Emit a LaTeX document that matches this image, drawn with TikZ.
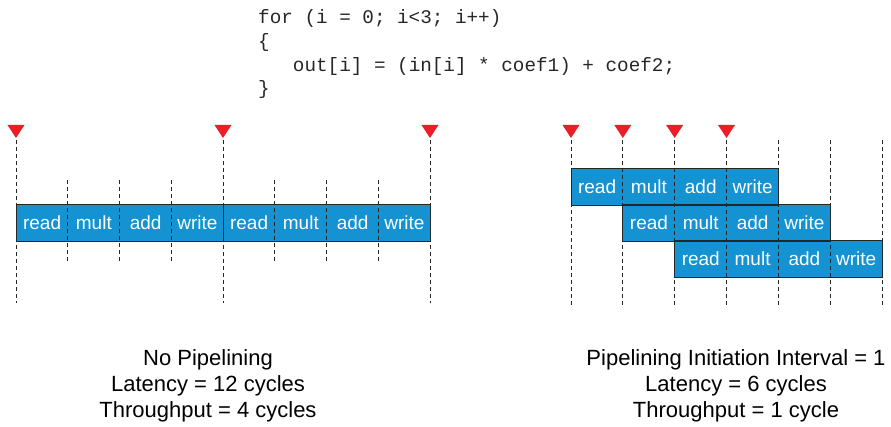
\documentclass[tikz,border=0pt]{standalone}
\usepackage{fontspec}
\setmainfont{Liberation Sans}
\setmonofont{Liberation Mono}
\definecolor{stageblue}{RGB}{20,146,210}
\definecolor{markred}{RGB}{235,30,40}
\tikzset{
  cell/.style={fill=stageblue, text=white, minimum width=51.8pt, minimum height=36pt,
    inner sep=0pt, anchor=west, font=\fontsize{19}{22}\selectfont},
  iterbox/.style={draw=black!85, line width=0.8pt},
  gridline/.style={draw=black!85, line width=0.8pt, dash pattern=on 4pt off 3pt},
  marker/.style={fill=markred},
  codeline/.style={anchor=base west, inner sep=0pt, text=black!85,
    font=\ttfamily\fontsize{19.3}{23}\selectfont},
  caption/.style={anchor=base, inner sep=0pt, font=\fontsize{22}{26}\selectfont},
}
\newcommand{\stagemarker}[2]{\fill[marker] (#1-8.5,#2) -- (#1+8.5,#2) -- (#1,#2+13) -- cycle;}
\begin{document}
\begin{tikzpicture}[x=1pt,y=-1pt]
\useasboundingbox (0,0) rectangle (891,427);

% loop source
\node[codeline] (c1) at (258,24) {for (i = 0; i<3; i++)};
\node[codeline] (c2) at (258,48) {\{};
\node[codeline] (c3) at (258,72) {\ \ \ out[i] = (in[i] * coef1) + coef2;};
\node[codeline] (c4) at (258,95) {\}};

% ---------------- no pipelining ----------------
\foreach \k in {0,1} {
  \foreach \s [count=\j from 0] in {read,mult,add,write} {
    \pgfmathsetmacro{\xx}{16+51.75*(4*\k+\j)}
    \node[cell] (L\k\j) at (\xx,223) {\s};
  }
}
% grid: tall lines at iteration starts, short lines between stages
\foreach \i in {0,4,8} {
  \coordinate (LTa\i) at ({16+51.75*\i},140);
  \coordinate (LTb\i) at ({16+51.75*\i},303);
  \draw[gridline] (LTa\i) -- (LTb\i);
  \stagemarker{16+51.75*\i}{125}
}
\foreach \i in {1,2,3,5,6,7} {
  \coordinate (LSa\i) at ({16+51.75*\i},180);
  \coordinate (LSb\i) at ({16+51.75*\i},263);
  \draw[gridline] (LSa\i) -- (LSb\i);
}
\draw[iterbox] (L00.north west) rectangle (L03.south east);
\draw[iterbox] (L10.north west) rectangle (L13.south east);

% ---------------- pipelined ----------------
\foreach \r/\yy in {0/187,1/223,2/259} {
  \foreach \s [count=\j from 0] in {read,mult,add,write} {
    \pgfmathsetmacro{\xx}{571+51.83*(\r+\j)}
    \node[cell] (R\r\j) at (\xx,\yy) {\s};
  }
}
\foreach \i in {0,...,6} {
  \coordinate (RTa\i) at ({571+51.83*\i},140);
  \coordinate (RTb\i) at ({571+51.83*\i},305);
  \draw[gridline] (RTa\i) -- (RTb\i);
}
\foreach \i in {0,...,3} {
  \stagemarker{571+51.83*\i}{125}
}
\foreach \r in {0,1,2} {
  \draw[iterbox] (R\r0.north west) rectangle (R\r3.south east);
}

% summaries
\node[caption] (n1) at (208,365) {No Pipelining};
\node[caption] (n2) at (208,391) {Latency = 12 cycles};
\node[caption] (n3) at (208,417) {Throughput = 4 cycles};
\node[caption] (p1) at (736,365) {Pipelining Initiation Interval = 1};
\node[caption] (p2) at (736,391) {Latency = 6 cycles};
\node[caption] (p3) at (736,417) {Throughput = 1 cycle};
\end{tikzpicture}
\end{document}
